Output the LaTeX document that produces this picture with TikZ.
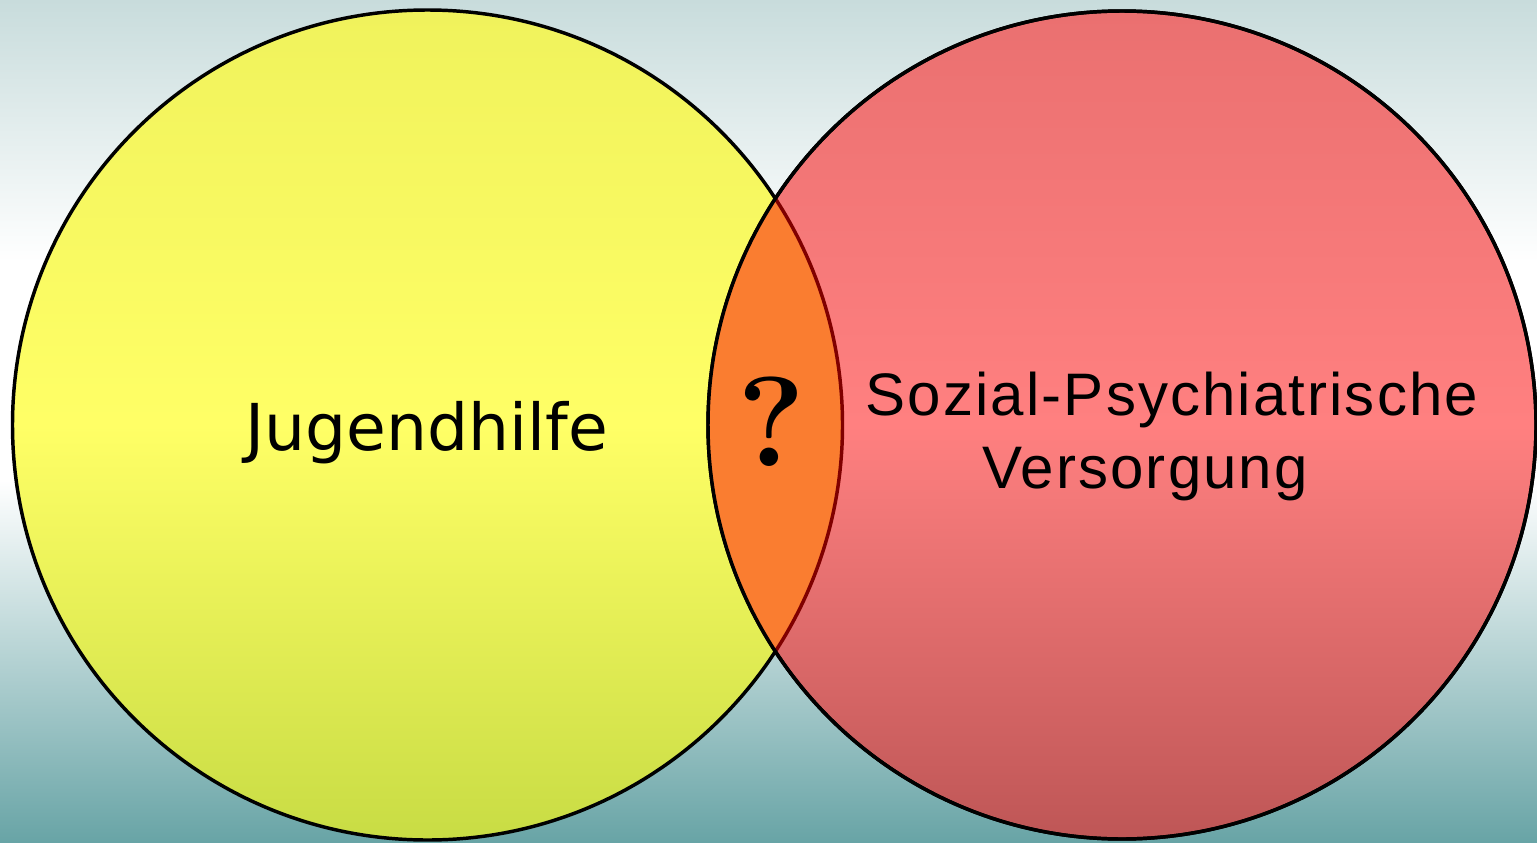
\documentclass[tikz,border=0pt]{standalone}
\usepackage{fontspec}
\usepackage{tikz}
\newfontfamily\jugendfont{DejaVu Sans}
\newfontfamily\versfont[LetterSpace=3.5]{Liberation Sans}

\definecolor{bgtop}{RGB}{200,220,220}
\definecolor{bgbot}{RGB}{104,164,166}
\definecolor{yeltop}{RGB}{240,242,92}
\definecolor{yelmid}{RGB}{255,255,102}
\definecolor{yelbot}{RGB}{200,220,68}
\definecolor{redtop}{RGB}{234,112,112}
\definecolor{redmid}{RGB}{255,128,128}
\definecolor{redbot}{RGB}{190,86,86}
\definecolor{lensorange}{RGB}{250,125,48}
\definecolor{lensrim}{RGB}{128,0,0}

\tikzset{
  rim/.style={line width=2.6pt, draw=black},
  bigtext/.style={inner sep=0pt, anchor=base, text=black}
}

\begin{document}
\begin{tikzpicture}[x=0.75pt,y=0.75pt,yscale=-1,xscale=1]
\useasboundingbox (0,0) rectangle (1537,842);

%Background
\shade [top color=bgtop, bottom color=white] (0,0) rectangle (1537,262);
\fill [white] (0,260) rectangle (1537,482);
\shade [top color=white, bottom color=bgbot] (0,480) rectangle (1537,842);

\coordinate (jh) at (427.5,425);
\coordinate (sp) at (1122,425);

%Shape: Circle left
\shade [top color=yeltop, bottom color=yelbot, middle color=yelmid] (jh) circle (415);
\draw [rim] (jh) circle (415);
%Shape: Circle right
\shade [top color=redtop, bottom color=redbot, middle color=redmid] (sp) circle (414);
\draw [rim] (sp) circle (414);

%Shape: Lens
\begin{scope}
  \clip (jh) circle (415);
  \fill [lensorange] (sp) circle (414);
\end{scope}
\begin{scope}
  \clip (sp) circle (414);
  \draw [rim, draw=lensrim] (jh) circle (415);
\end{scope}
\draw [rim] (sp) circle (414);

% Text Node
\node [bigtext] (jugend) at (427,450) {\jugendfont\fontsize{48.5}{56}\selectfont Jugendhilfe};
% Text Node
\node [bigtext] (frage) at (771,466) {\fontsize{96}{100}\selectfont\bfseries ?};
% Text Node
\node [bigtext, text depth=0pt] (sozial) at (1172,415) {\versfont\fontsize{45}{54}\selectfont Sozial-Psychiatrische};
% Text Node
\node [bigtext] (versorgung) at (1145,488) {\versfont\fontsize{45}{54}\selectfont Versorgung};

\end{tikzpicture}
\end{document}
